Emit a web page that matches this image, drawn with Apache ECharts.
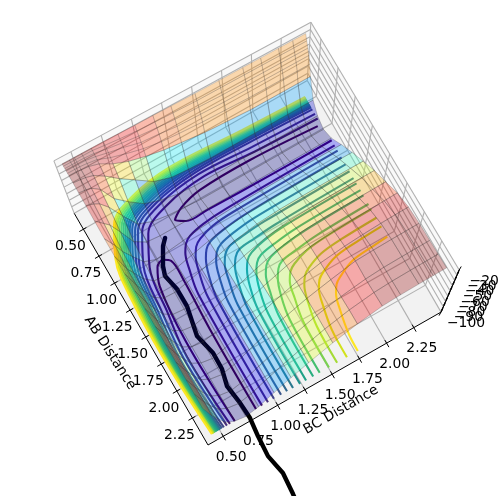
<!DOCTYPE html>
<html><head><meta charset="utf-8">
<style>html,body{margin:0;padding:0;background:#fff}#c{width:500px;height:496px}</style>
<script src="https://cdn.jsdelivr.net/npm/echarts@6/dist/echarts.min.js"></script>
</head><body><div id="c"></div>
<script>
const abTicks=[0.5,0.75,1,1.25,1.5,1.75,2,2.25];
const bcTicks=[0.5,0.75,1,1.25,1.5,1.75,2,2.25];
const zTicks=[-100,-90,-80,-70,-60,-50,-40,-30,-20];
const abGrid=[.40,.42,.44,.46,.48,.50,.56,.64,.74,.86,1.0,1.15,1.3,1.45,1.6,1.75,1.9,2.05,2.2,2.32,2.44];
const bcGrid=[.40,.46,.50,.56,.64,.74,.86,1.0,1.15,1.3,1.5,1.7,1.9,2.05,2.2,2.32,2.43];
const energy=[
[-20,-20,-20,-20,-20,-20,-20.5,-21,-21,-21.5,-22,-22,-22,-22,-22,-22,-22],
[-20,-20,-20,-20,-20,-22,-24,-26,-27,-28,-29,-29,-29,-29,-29,-29,-29],
[-20,-20,-20,-20,-21,-24,-27,-30,-32,-34,-35,-36,-36,-36,-36,-36,-36],
[-20,-20,-20,-20,-22,-26,-30,-36,-38,-41,-42,-43,-43,-43,-43,-43,-43],
[-20,-20,-20,-21,-23,-30,-36,-42,-46,-48,-50,-51,-52,-52,-52,-52,-52],
[-20,-20,-21,-22,-26,-36,-44,-50,-55,-58,-62,-64,-66,-66,-66,-66,-66],
[-20,-21,-22,-25,-34,-48,-62,-78,-86,-88,-90,-90,-90,-90,-90,-90,-90],
[-21,-22,-24,-32,-55,-70,-85,-93,-98,-100,-100,-100,-100,-100,-100,-100,-100],
[-22,-26,-30,-42,-64,-88,-96,-100,-102,-104,-104,-104,-104,-104,-104,-104,-104],
[-24,-35,-42,-60,-85,-96,-98,-98,-98,-98,-98,-98,-98,-98,-98,-98,-98],
[-26,-45,-60,-75,-93,-100,-98,-95,-91,-89,-87,-86,-85.5,-85,-85,-85,-85],
[-26,-56,-68,-85,-98,-100,-97,-91,-84,-79,-75,-73,-72.5,-72.2,-72,-72,-72],
[-25,-55,-70,-89,-100,-101,-96,-89,-81,-72,-65,-62,-61,-60.5,-60.2,-60,-60],
[-24,-55,-70,-90,-100,-102,-96,-88,-79,-69,-58,-52,-50,-49,-48.5,-48.2,-48],
[-24,-55,-70,-90,-100,-103,-97,-88,-77,-66,-52,-44,-41,-40.5,-40,-39.5,-39],
[-24,-55,-70,-90,-100,-103,-98,-87,-75,-63,-49,-38,-34,-32,-31,-30,-29],
[-24,-55,-70,-90,-100,-104,-98,-86,-73,-61,-47,-36,-30,-27,-25,-24,-23.5],
[-24,-55,-70,-90,-100,-104,-98,-85,-72,-60,-46,-35,-25,-23.5,-22.5,-22,-21.5],
[-24,-55,-70,-90,-100,-104,-98,-85,-72,-60,-45,-34,-26,-23,-22,-21.5,-21],
[-24,-55,-70,-90,-100,-104,-98,-85,-72,-60,-45,-33,-25,-22.5,-21.5,-21,-20.5],
[-24,-55,-70,-90,-100,-104,-98,-85,-72,-60,-45,-33,-24,-22,-21,-20.5,-20]
];
const wallShade=[.99,.99,.98,.97,.92,.90,.88,.83,.78,.75,.74,.74,.74,.74,.74,.74];
const levelColors=['#440154','#481a6c','#472f7d','#414487','#39568c','#31688e','#2a788e','#21918c','#1fa187','#28ae80','#44bf70','#7ad151','#a5db36','#d2e21b','#fde725'];
const loopAB=[[2.44,1.7,1.2,1.06,1.03,1.07,1.25,1.7,2.44],[.713,.68,.69,.74,.80,.85,.858,.867,.867]];
const loopBC=[[.64,.62,.66,.72,.79,.84,.85,.835,.835],[2.39,1.787,1.322,1.12,1.03,1.10,1.29,1.9,2.43]];
const innerAB=[
[2.44,1.8,1.41,1.03,.79,.665,.61,.64,.66],
[2.44,1.8,1.374,.994,.754,.629,.574,.597,.617],
[2.44,1.8,1.35,.97,.73,.605,.55,.555,.575],
[2.44,1.8,1.333,.953,.713,.588,.533,.536,.556],
[2.44,1.8,1.316,.936,.696,.571,.516,.525,.545],
[2.44,1.8,1.302,.922,.682,.557,.502,.515,.535],
[2.44,1.8,1.29,.91,.67,.545,.49,.505,.525],
[2.44,1.8,1.278,.898,.658,.533,.478,.495,.515],
[2.44,1.8,1.266,.886,.646,.521,.466,.485,.505],
[2.44,1.8,1.254,.874,.634,.509,.454,.475,.495],
[2.44,1.8,1.242,.862,.622,.497,.442,.465,.485],
[2.44,1.8,1.23,.85,.61,.485,.43,.455,.475],
[2.44,1.8,1.22,.84,.60,.475,.42,.448,.468],
[2.44,1.8,1.21,.83,.59,.465,.41,.44,.46]];
const innerBC=[
[.596,.566,.61,.665,.79,1.03,1.41,1.85,2.42],
[.568,.538,.574,.629,.754,.994,1.374,1.85,2.42],
[.54,.51,.55,.605,.73,.97,1.35,1.85,2.42],
[.522,.492,.533,.588,.713,.953,1.333,1.85,2.42],
[.508,.478,.516,.571,.696,.936,1.316,1.85,2.42],
[.50,.47,.502,.557,.682,.922,1.302,1.85,2.42],
[.49,.46,.49,.545,.67,.91,1.29,1.85,2.42],
[.48,.45,.478,.533,.658,.898,1.278,1.85,2.42],
[.47,.44,.466,.521,.646,.886,1.266,1.85,2.42],
[.46,.43,.454,.509,.634,.874,1.254,1.85,2.42],
[.45,.42,.442,.497,.622,.862,1.242,1.85,2.42],
[.445,.415,.43,.485,.61,.85,1.23,1.85,2.42],
[.44,.41,.42,.475,.60,.84,1.22,1.85,2.42],
[.43,.40,.41,.465,.59,.83,1.21,1.85,2.42]];
const outerAB=[
[2.44,1.41,1.21,1.07,1.01,.97,.94,.925,.915],
[2.44,1.47,1.27,1.13,1.07,1.03,.99,.975,.963],
[2.44,1.53,1.33,1.19,1.13,1.09,1.06,1.04,1.027],
[2.44,1.59,1.39,1.25,1.19,1.15,1.12,1.10,1.09],
[2.44,1.64,1.44,1.30,1.24,1.20,1.18,1.165,1.154],
[2.44,1.70,1.50,1.36,1.30,1.26,1.245,1.23,1.218],
[2.44,1.77,1.57,1.43,1.37,1.33,1.295,1.275,1.266],
[2.44,1.825,1.625,1.485,1.425,1.385,1.36,1.34,1.33],
[2.44,1.88,1.68,1.54,1.48,1.44,1.41,1.39,1.378],
[2.44,1.95,1.75,1.61,1.55,1.51,1.49,1.47,1.458],
[2.44,2.02,1.82,1.68,1.62,1.58,1.535,1.515,1.505],
[2.44,2.105,1.905,1.765,1.705,1.665,1.615,1.595,1.585],
[2.44,2.19,1.99,1.85,1.79,1.75,1.695,1.675,1.665],
[2.44,2.29,2.09,1.95,1.89,1.85,1.79,1.77,1.76]];
const outerBC=[
[.89,.895,.93,.97,1.01,1.07,1.21,1.41,2.43],
[.945,.95,.985,1.03,1.07,1.13,1.27,1.47,2.43],
[1.0,1.005,1.04,1.09,1.13,1.19,1.33,1.53,2.43],
[1.065,1.07,1.105,1.15,1.19,1.25,1.39,1.59,2.43],
[1.12,1.125,1.16,1.20,1.24,1.30,1.44,1.64,2.43],
[1.175,1.18,1.215,1.26,1.30,1.36,1.50,1.70,2.43],
[1.24,1.245,1.28,1.33,1.37,1.43,1.57,1.77,2.43],
[1.295,1.30,1.335,1.385,1.425,1.485,1.625,1.825,2.43],
[1.36,1.365,1.40,1.44,1.48,1.54,1.68,1.88,2.43],
[1.42,1.425,1.46,1.51,1.55,1.61,1.75,1.95,2.43],
[1.505,1.51,1.545,1.58,1.62,1.68,1.82,2.02,2.43],
[1.58,1.585,1.62,1.665,1.705,1.765,1.905,2.105,2.43],
[1.67,1.675,1.71,1.75,1.79,1.85,1.99,2.19,2.43],
[1.77,1.775,1.81,1.85,1.89,1.95,2.09,2.29,2.43]];
const trajAB=[.886,.934,1.073,1.151,1.289,1.448,1.696,1.879,2.026,2.165,2.334,2.479,2.636,2.816,2.993,3.18,3.319];
const trajBC=[.889,.843,.763,.737,.768,.769,.719,.762,.760,.726,.749,.758,.741,.730,.766,.752,.737];

const abMin=.353,abMax=2.5,bcMin=.36,bcMax=2.5,zMin=-100,zMax=-20;
const FONT='"DejaVu Sans"';
function project(ab,bc,z){
  const u=(2.5-ab)/2.147,v=(bc-.36)/2.14;
  const fx=208-(2.5-ab)*62.3+(bc-.36)*108.9, fy=445-(2.5-ab)*107.9-(bc-.36)*62.1;
  const c=(.105-.013*u*v)*(z+100)/80;
  return [fx+(fx-268)*c, fy+(fy-713)*c];
}
function jet(t){t=Math.max(0,t);const q=x=>Math.round(255*Math.max(0,Math.min(1,x)));
  return [q(1.5-Math.abs(4*t-3)),q(1.5-Math.abs(4*t-2)),q(1.5-Math.abs(4*t-1))];}

const panes=[
 {pts:[project(abMin,bcMin,zMin),project(abMax,bcMin,zMin),project(abMax,bcMax,zMin),project(abMin,bcMax,zMin)],c:'#f2f2f2'},
 {pts:[project(abMin,bcMin,zMin),project(abMin,bcMax,zMin),project(abMin,bcMax,zMax),project(abMin,bcMin,zMax)],c:'#f8f8f8'},
 {pts:[project(abMin,bcMax,zMin),project(abMax,bcMax,zMin),project(abMax,bcMax,zMax),project(abMin,bcMax,zMax)],c:'#f9f9f9'}
];
const gridSegs=[];
abTicks.forEach(a=>{gridSegs.push([project(a,bcMin,zMin),project(a,bcMax,zMin)],[project(a,bcMax,zMin),project(a,bcMax,zMax)]);});
bcTicks.forEach(b=>{gridSegs.push([project(abMax,b,zMin),project(abMin,b,zMin)],[project(abMin,b,zMin),project(abMin,b,zMax)]);});
zTicks.forEach(z=>{gridSegs.push([project(abMin,bcMin,z),project(abMin,bcMax,z)],[project(abMin,bcMax,z),project(abMax,bcMax,z)]);});
gridSegs.push([project(abMin,bcMin,zMin),project(abMin,bcMin,zMax)],[project(abMax,bcMax,zMin),project(abMax,bcMax,zMax)],[project(abMin,bcMax,zMin),project(abMin,bcMax,zMax)]);
const axisSegs=[[project(abMin,bcMin,zMin),project(abMax,bcMin,zMin)],[project(abMax,bcMin,zMin),project(abMax,bcMax,zMin)],[project(abMax,bcMax,zMin),project(abMax,bcMax,zMax)]];
abTicks.forEach(a=>{const p=project(a,bcMin,zMin);axisSegs.push([[p[0]-4,p[1]+2.3],[p[0]+3,p[1]-1.7]]);});
bcTicks.forEach(b=>{const p=project(abMax,b,zMin);axisSegs.push([[p[0]-1.7,p[1]-3],[p[0]+2.3,p[1]+4]]);});
zTicks.forEach(z=>{const p=project(abMax,bcMax,z);axisSegs.push([[p[0]-2,p[1]+3.5],[p[0]+2,p[1]-3.5]]);});
const fmt=v=>v.toFixed(2);
const texts=[];
abTicks.forEach(a=>{const p=project(a,bcMin,zMin);texts.push({x:p[0]-13,y:p[1]+17,t:fmt(a),r:0});});
bcTicks.forEach(b=>{const p=project(abMax,b,zMin);texts.push({x:p[0]+8,y:p[1]+21,t:fmt(b),r:0});});
zTicks.forEach(z=>{const p=project(abMax,bcMax,z);texts.push({x:p[0]+25,y:p[1]+11,t:'\u2212'+Math.abs(z),r:0});});
texts.push({x:110,y:353,t:'AB Distance',r:-1.0});
texts.push({x:341,y:410,t:'BC Distance',r:0.524});
const cells=[];
for(let i=0;i<abGrid.length-1;i++)for(let j=0;j<bcGrid.length-1;j++){
  const zs=[energy[i][j],energy[i+1][j],energy[i+1][j+1],energy[i][j+1]];
  const m=(zs[0]+zs[1]+zs[2]+zs[3])/4;
  cells.push({i,j,m,key:(abGrid[i]-bcGrid[j])+m*.01});
}
cells.sort((a,b)=>a.key-b.key);

function segSeries(name,segs,color,width,z){
  return {type:'custom',name,coordinateSystem:'cartesian2d',silent:true,z,clip:false,animation:false,
    data:segs.map((s,i)=>[i]),
    renderItem(p,api){const s=segs[api.value(0)];const a=api.coord(s[0]),b=api.coord(s[1]);
      return {type:'line',shape:{x1:a[0],y1:a[1],x2:b[0],y2:b[1]},style:{stroke:color,lineWidth:width}};}};
}
const series=[];
series.push({type:'custom',name:'panes',silent:true,z:1,clip:false,animation:false,data:panes.map((s,i)=>[i]),
  renderItem(p,api){const o=panes[api.value(0)];return {type:'polygon',shape:{points:o.pts.map(q=>api.coord(q))},style:{fill:o.c}};}});
series.push(segSeries('grid',gridSegs,'#b0b0b0',1.1,2));
function contour(name,ab,bc,k){
  series.push({type:'line',name,z:3,smooth:.35,symbol:'none',silent:true,animation:false,clip:false,
    lineStyle:{color:levelColors[k],width:2.1},
    data:ab.map((a,n)=>project(a,bc[n],zMin))});
}
loopAB.forEach((r,i)=>contour('loop'+i,r,loopBC[i],0));
innerAB.forEach((r,i)=>contour('inner'+i,r,innerBC[i],i+1));
outerAB.forEach((r,i)=>contour('outer'+i,r,outerBC[i],i+1));
series.push({type:'line',name:'trajectory',z:4,smooth:false,symbol:'none',silent:true,animation:false,clip:false,
  lineStyle:{color:'#000',width:4.4,cap:'round',join:'round'},
  data:trajAB.map((a,n)=>project(a,trajBC[n],zMin))});
series.push({type:'custom',name:'surface',silent:true,z:5,clip:false,animation:false,
  data:cells.map((c,n)=>[n]),
  renderItem(p,api){const c=cells[api.value(0)];const i=c.i,j=c.j;
    const pts=[[i,j],[i+1,j],[i+1,j+1],[i,j+1]].map(q=>api.coord(project(abGrid[q[0]],bcGrid[q[1]],energy[q[0]][q[1]])));
    const t=i<5?wallShade[j]:(c.m+101)/81;
    const col=jet(t);
    return {type:'polygon',shape:{points:pts},style:{fill:`rgba(${col[0]},${col[1]},${col[2]},.3)`,stroke:i<5?'rgba(50,50,50,.24)':'rgba(50,50,50,.34)',lineWidth:.7}};}});
series.push(segSeries('axes',axisSegs,'#000',1,6));
series.push({type:'custom',name:'labels',silent:true,z:7,clip:false,animation:false,data:texts.map((s,i)=>[i]),
  renderItem(p,api){const o=texts[api.value(0)];const a=api.coord([o.x,o.y]);
    return {type:'text',x:a[0],y:a[1],rotation:o.r,style:{text:o.t,fill:'#000',font:'13.9px '+FONT,textAlign:'center',textVerticalAlign:'middle'}};}});

const chart=echarts.init(document.getElementById('c'),null,{renderer:'canvas'});
chart.setOption({animation:false,backgroundColor:'#fff',
  grid:{left:0,right:0,top:0,bottom:0},
  xAxis:{type:'value',min:0,max:500,show:false},
  yAxis:{type:'value',min:0,max:496,inverse:true,show:false},
  series});
</script></body></html>
